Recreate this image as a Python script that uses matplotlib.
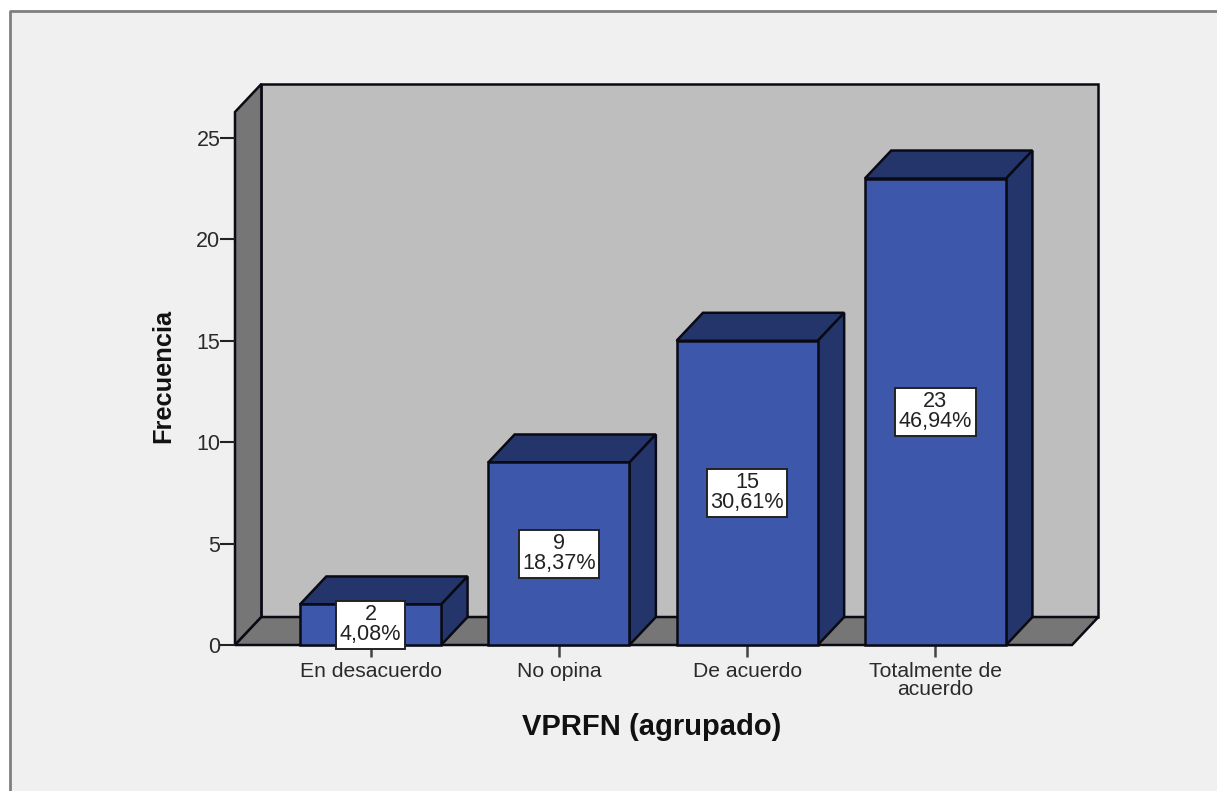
import matplotlib
matplotlib.use("Agg")
import matplotlib.pyplot as plt
from matplotlib.patches import Polygon, Rectangle
from matplotlib.lines import Line2D

plt.rcParams['font.family'] = ['Liberation Sans', 'DejaVu Sans']

categories = ["En desacuerdo", "No opina", "De acuerdo", "Totalmente de\nacuerdo"]
counts = [2, 9, 15, 23]
percents = ["4,08%", "18,37%", "30,61%", "46,94%"]
y_ticks = [0, 5, 10, 15, 20, 25]

W, H = 1217, 791
fig = plt.figure(figsize=(W / 100, H / 100), dpi=100, facecolor="white")

# panel background and border (behind the axes)
fig.add_artist(Rectangle((10 / W, 0), 1 - 10 / W, 1 - 11 / H, transform=fig.transFigure,
                         facecolor="#F0F0F0", edgecolor="none", zorder=-2))
fig.add_artist(Line2D([10 / W, 10 / W, 1], [0, 1 - 11 / H, 1 - 11 / H], transform=fig.transFigure,
                      color="#7F7F7F", lw=2, zorder=-1))

# axes = front plane of the 3D box
left, right, bottom, top = 235, 1072, 645, 112
ax = fig.add_axes([left / W, 1 - bottom / H, (right - left) / W, (bottom - top) / H])
ax.patch.set_visible(False)
ax.set_xlim(-0.72, 3.725)
ax.set_ylim(0, 26.28)
for s in ax.spines.values():
    s.set_visible(False)

dx, dy = 0.14, 1.38          # depth of the 3D effect, data units
bar_w = 0.75
x0, x1 = ax.get_xlim()
y1 = ax.get_ylim()[1]
edge = "#0A0A14"
lw = 1.8

def poly(pts, fc, z, ec=edge):
    ax.add_patch(Polygon(pts, closed=True, facecolor=fc, edgecolor=ec, lw=lw, zorder=z,
                         clip_on=False, joinstyle="miter"))

# walls
poly([(x0 + dx, dy), (x1 + dx, dy), (x1 + dx, y1 + dy), (x0 + dx, y1 + dy)], "#BEBEBE", 1)
poly([(x0, 0), (x0 + dx, dy), (x0 + dx, y1 + dy), (x0, y1)], "#767676", 1)
poly([(x0, 0), (x1, 0), (x1 + dx, dy), (x0 + dx, dy)], "#767676", 1)

# bars
for i, v in enumerate(counts):
    l, r = i - bar_w / 2, i + bar_w / 2
    poly([(l, v), (r, v), (r + dx, v + dy), (l + dx, v + dy)], "#24356B", 3)
    poly([(r, 0), (r + dx, dy), (r + dx, v + dy), (r, v)], "#24356B", 3)
    poly([(l, 0), (r, 0), (r, v), (l, v)], "#3D58AB", 3)
    ax.text(i, v / 2, f"{v}\n{percents[i]}", ha="center", va="center", fontsize=15.6,
            linespacing=0.93, color="#222222", zorder=6, clip_on=False,
            bbox=dict(boxstyle="square,pad=0.16", facecolor="white", edgecolor="#222222", lw=1.4))

# axes ticks and labels
ax.set_yticks(y_ticks)
ax.set_xticks(range(len(categories)))
ax.set_xticklabels(categories, linespacing=0.98)
ax.tick_params(axis="y", length=10.5, width=1.5, color="#222222", labelsize=15.5,
               labelcolor="#2A2A2A", pad=0)
ax.tick_params(axis="x", length=8.5, width=1.8, color="#444444", labelsize=15.2,
               labelcolor="#2A2A2A", pad=3.5)

fig.text(652 / W, 1 - 727 / H, "VPRFN (agrupado)", ha="center", va="center",
         fontsize=21, fontweight="bold", color="#111111")
fig.text(163 / W, 1 - 376 / H, "Frecuencia", ha="center", va="center", rotation=90,
         fontsize=18.3, fontweight="bold", color="#111111")

fig.savefig("out.png", dpi=100, facecolor=fig.get_facecolor())
